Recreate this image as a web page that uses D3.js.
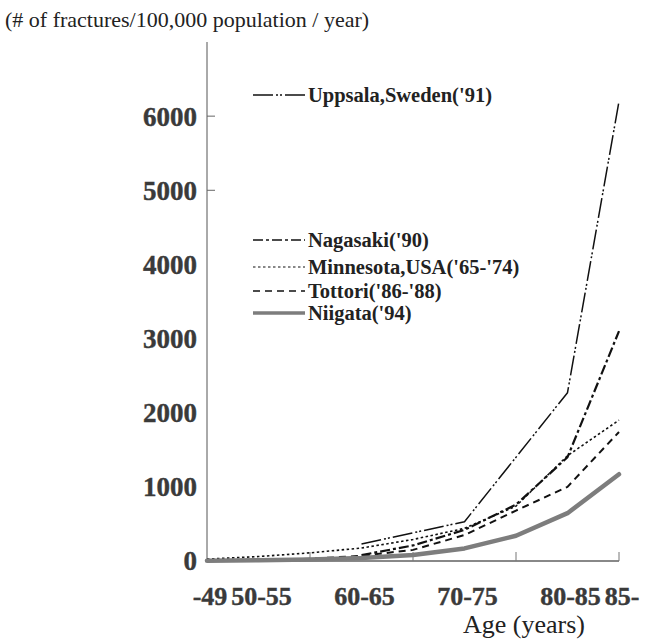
<!DOCTYPE html>
<html>
<head>
<meta charset="utf-8">
<script src="https://cdn.jsdelivr.net/npm/d3@7"></script>
<style>
  html, body { margin: 0; padding: 0; background: #fff; }
  svg { display: block; }
</style>
</head>
<body>
<svg id="chart" width="650" height="641"></svg>
<script>
// Age groups along the x axis
const ageGroups = ["-49", "50-55", "55-60", "60-65", "65-70", "70-75", "75-80", "80-85", "85-"];
// Age groups that carry a printed label, and those that carry a tick mark
const xLabelGroups = ["-49", "50-55", "60-65", "70-75", "80-85", "85-"];
const xTickGroups = ["55-60", "65-70", "75-80", "85-"];

// Y axis labels and the two tick marks drawn on the axis
const yTickValues = [0, 1000, 2000, 3000, 4000, 5000, 6000];
const yTickMarks = [5000, 6000];

// Incidence of hip fractures per 100,000 population per year (null = no value)
const uppsala   = [null, null, null, 230, null, 530, null, 2270, 6200];
const nagasaki  = [null, null, null, 80, 210, 420, 760, 1400, 3100];
const minnesota = [25, 60, 110, 175, 290, 440, 740, 1420, 1900];
const tottori   = [8, 15, 30, 70, 150, 350, 680, 1000, 1740];
const niigata   = [5, 10, 20, 40, 80, 170, 340, 645, 1170];

const seriesNames = ["Uppsala,Sweden('91)", "Nagasaki('90)", "Minnesota,USA('65-'74)", "Tottori('86-'88)", "Niigata('94)"];

const svg = d3.select("#chart");

const x = d3.scalePoint().domain(ageGroups).range([207, 619]);
const y = d3.scaleLinear().domain([0, 7000]).range([561, 42]);

const serif = "'Liberation Serif', 'Times New Roman', serif";

// Unit caption
svg.append("text")
  .attr("x", 5).attr("y", 27)
  .attr("font-family", serif).attr("font-size", 22)
  .attr("fill", "#222")
  .text("(# of fractures/100,000 population / year)");

// Y axis line
svg.append("line")
  .attr("x1", x(ageGroups[0])).attr("x2", x(ageGroups[0]))
  .attr("y1", y(7000)).attr("y2", y(0))
  .attr("stroke", "#555").attr("stroke-width", 1);

// Y tick marks pointing into the plot
svg.selectAll(".ymark").data(yTickMarks).join("line")
  .attr("x1", x(ageGroups[0])).attr("x2", x(ageGroups[0]) + 8)
  .attr("y1", d => y(d)).attr("y2", d => y(d))
  .attr("stroke", "#666").attr("stroke-width", 1);

// Y tick labels
svg.selectAll(".ylab").data(yTickValues).join("text")
  .attr("x", 197).attr("y", d => y(d)).attr("dy", "0.35em")
  .attr("text-anchor", "end")
  .attr("font-family", serif).attr("font-weight", "bold").attr("font-size", 27)
  .attr("fill", "#3a3a3a").attr("stroke", "#3a3a3a").attr("stroke-width", 0.4)
  .text(d => d);

// X axis baseline
svg.append("line")
  .attr("x1", x(ageGroups[0]) - 2).attr("x2", x(ageGroups[ageGroups.length - 1]))
  .attr("y1", y(0)).attr("y2", y(0))
  .attr("stroke", "#888").attr("stroke-width", 2);

// X tick marks pointing up
svg.selectAll(".xmark").data(xTickGroups).join("line")
  .attr("x1", d => x(d)).attr("x2", d => x(d))
  .attr("y1", y(0)).attr("y2", y(0) - 9)
  .attr("stroke", "#777").attr("stroke-width", 1);

// X tick labels
svg.selectAll(".xlab").data(xLabelGroups).join("text")
  .attr("x", d => x(d) + 3).attr("y", 605)
  .attr("text-anchor", "middle")
  .attr("font-family", serif).attr("font-weight", "bold").attr("font-size", 26)
  .attr("fill", "#3a3a3a").attr("stroke", "#3a3a3a").attr("stroke-width", 0.4)
  .text(d => d);

// X axis title
svg.append("text")
  .attr("x", 524).attr("y", 633)
  .attr("text-anchor", "middle")
  .attr("font-family", serif).attr("font-size", 26)
  .attr("fill", "#222")
  .text("Age (years)");

// Line styles per series
const styles = [
  { values: uppsala,   dash: "20,3,2,2,2,3", width: 1.5, color: "#111", legendWidth: 1.5 },
  { values: nagasaki,  dash: "10,3,3,3",     width: 2.2, color: "#111", legendWidth: 1.6 },
  { values: minnesota, dash: "2.5,2.5",      width: 1.6, color: "#111", legendWidth: 1.2 },
  { values: tottori,   dash: "7,5",          width: 2,   color: "#111", legendWidth: 1.4 },
  { values: niigata,   dash: null,           width: 4.5, color: "#7d7d7d", legendWidth: 3.5 }
];

const line = d3.line()
  .x(d => x(d.group))
  .y(d => y(d.value));

styles.forEach(s => {
  const pts = ageGroups.map((g, i) => ({ group: g, value: s.values[i] }))
    .filter(d => d.value != null);
  const p = svg.append("path")
    .datum(pts)
    .attr("d", line)
    .attr("fill", "none")
    .attr("stroke", s.color)
    .attr("stroke-width", s.width)
    .attr("stroke-linejoin", "round")
    .attr("stroke-linecap", "round");
  if (s.dash) p.attr("stroke-dasharray", s.dash).attr("stroke-linecap", "butt");
});

// Legend
const legendY = [95, 240, 267, 291, 313];
const legend = svg.selectAll(".legend").data(seriesNames).join("g")
  .attr("transform", (d, i) => `translate(0,${legendY[i]})`);

legend.each(function(name, i) {
  const g = d3.select(this);
  const s = styles[i];
  const l = g.append("line")
    .attr("x1", 253).attr("x2", 305).attr("y1", 0).attr("y2", 0)
    .attr("stroke", s.color).attr("stroke-width", s.legendWidth);
  if (s.dash) l.attr("stroke-dasharray", s.dash);
  g.append("text")
    .attr("x", 308).attr("y", 0).attr("dy", "0.33em")
    .attr("font-family", serif).attr("font-weight", "bold").attr("font-size", 20.5)
    .attr("fill", "#222")
    .text(name);
});
</script>
</body>
</html>
